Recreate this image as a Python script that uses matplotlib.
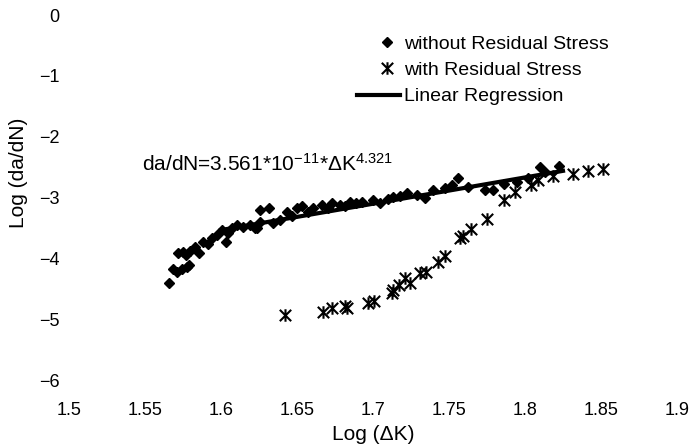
import numpy as np
import matplotlib
matplotlib.use("Agg")
import matplotlib.pyplot as plt
from matplotlib.path import Path
from matplotlib.legend_handler import HandlerLine2D

# ==============================
# DATA
# ==============================
# without residual stress (filled dots)
no_rs_x = [1.5658, 1.5684, 1.5711, 1.5743, 1.5776, 1.5789, 1.5717, 1.5750, 1.5770,
           1.5796, 1.5829, 1.5855, 1.5882, 1.5914, 1.5941, 1.5974, 1.6007, 1.6033,
           1.6046, 1.6072, 1.6105, 1.6145, 1.6191, 1.6237, 1.6257, 1.6257, 1.6316,
           1.6224, 1.6342, 1.6388, 1.6434, 1.6467, 1.6500, 1.6533, 1.6572, 1.6605,
           1.6664, 1.6704, 1.6730, 1.6783, 1.6816, 1.6849, 1.6888, 1.6928, 1.7000,
           1.7046, 1.7099, 1.7132, 1.7178, 1.7224, 1.7289, 1.7342, 1.7395, 1.7474,
           1.7520, 1.7559, 1.7625, 1.7737, 1.7789, 1.7862, 1.7947, 1.8020, 1.8099,
           1.8132, 1.8224]
no_rs_y = [-4.408, -4.178, -4.227, -4.178, -4.145, -4.112, -3.914, -3.898, -3.947,
           -3.882, -3.816, -3.914, -3.734, -3.766, -3.668, -3.618, -3.536, -3.734,
           -3.586, -3.503, -3.454, -3.487, -3.454, -3.503, -3.405, -3.207, -3.174,
           -3.503, -3.421, -3.372, -3.240, -3.306, -3.174, -3.141, -3.240, -3.174,
           -3.125, -3.174, -3.092, -3.125, -3.141, -3.076, -3.092, -3.076, -3.043,
           -3.092, -3.026, -2.993, -2.977, -2.928, -2.961, -3.010, -2.878, -2.845,
           -2.796, -2.681, -2.829, -2.878, -2.878, -2.780, -2.747, -2.681, -2.500,
           -2.582, -2.484]

# with residual stress (star crosses)
rs_x = [1.6421, 1.6671, 1.6730, 1.6816, 1.6829, 1.6967, 1.7007, 1.7125, 1.7132,
        1.7171, 1.7211, 1.7243, 1.7309, 1.7349, 1.7428, 1.7474, 1.7572, 1.7592,
        1.7645, 1.7750, 1.7862, 1.7934, 1.8039, 1.8086, 1.8184, 1.8316, 1.8414,
        1.8513]
rs_y = [-4.934, -4.885, -4.819, -4.786, -4.819, -4.737, -4.704, -4.572, -4.523,
        -4.441, -4.326, -4.408, -4.243, -4.227, -4.062, -3.964, -3.668, -3.635,
        -3.520, -3.355, -3.043, -2.911, -2.796, -2.714, -2.648, -2.615, -2.566,
        -2.533]

# linear regression end points
reg_x = [1.600, 1.825]
reg_y = [-3.535, -2.562]

x_ticks = [1.5, 1.55, 1.6, 1.65, 1.7, 1.75, 1.8, 1.85, 1.9]
x_tick_labels = ["1.5", "1.55", "1.6", "1.65", "1.7", "1.75", "1.8", "1.85", "1.9"]
y_ticks = [0, -1, -2, -3, -4, -5, -6]
y_tick_labels = ["0", "\u22121", "\u22122", "\u22123", "\u22124", "\u22125", "\u22126"]

equation = r"da/dN=3.561*10$^{-11}$*$\Delta$K$^{4.321}$"

# ==============================
# STYLE
# ==============================
plt.rcParams["font.family"] = ["Liberation Sans", "DejaVu Sans"]
plt.rcParams["mathtext.fontset"] = "custom"
plt.rcParams["mathtext.rm"] = "Liberation Sans"
plt.rcParams["mathtext.it"] = "Liberation Sans"
plt.rcParams["mathtext.default"] = "regular"

# excel-like star: an X with a vertical bar through it
star = Path([(-1, -1), (1, 1), (-1, 1), (1, -1), (0, -1.1), (0, 1.1)],
            [Path.MOVETO, Path.LINETO, Path.MOVETO, Path.LINETO, Path.MOVETO, Path.LINETO])

fig = plt.figure(figsize=(6.96, 4.48), dpi=100)
ax = fig.add_axes([69 / 696, 68 / 448, 608 / 696, 365 / 448])

dots, = ax.plot(no_rs_x, no_rs_y, linestyle="none", marker="D", markersize=5,
                color="black", label="without Residual Stress")
stars, = ax.plot(rs_x, rs_y, linestyle="none", marker=star, markersize=9,
                 markeredgewidth=1.5, color="black", label="with Residual Stress")
ax.plot(reg_x, reg_y, color="black", linewidth=3, label="Linear Regression")

ax.text(1.548, -2.45, equation, fontsize=15, va="center", ha="left")

ax.set_xlim(1.5, 1.9)
ax.set_ylim(-6, 0)
ax.set_xticks(x_ticks)
ax.set_xticklabels(x_tick_labels)
ax.set_yticks(y_ticks)
ax.set_yticklabels(y_tick_labels)
ax.tick_params(axis="both", length=0, labelsize=13)
ax.tick_params(axis="x", pad=16)
ax.tick_params(axis="y", pad=7)
for s in ax.spines.values():
    s.set_visible(False)

ax.set_xlabel("Log (\u0394K)", fontsize=15, labelpad=4)
ax.set_ylabel("Log (da/dN)", fontsize=15)
ax.yaxis.set_label_coords(-0.068, 0.567)

ax.legend(loc="upper left", bbox_to_anchor=(357 / 696, (448 - 35) / 448),
          bbox_transform=fig.transFigure, frameon=False, fontsize=14,
          borderpad=0, borderaxespad=0, handlelength=2.2, handletextpad=0.2,
          labelspacing=0.45,
          handler_map={dots: HandlerLine2D(numpoints=1, xpad=0.9),
                       stars: HandlerLine2D(numpoints=1, xpad=0.9)})

plt.savefig("out.png", dpi=100)
